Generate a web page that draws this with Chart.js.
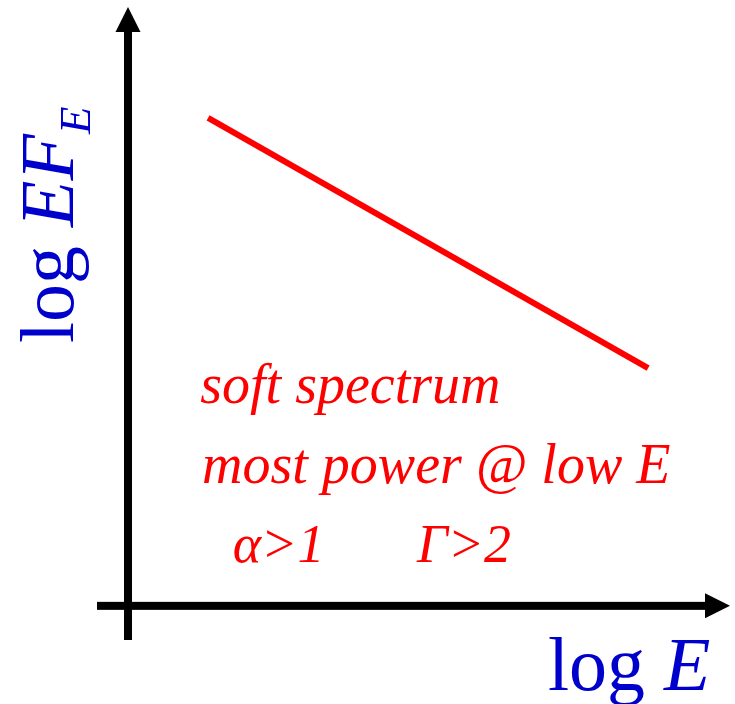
<!DOCTYPE html>
<html>
<head>
<meta charset="utf-8">
<script src="https://cdn.jsdelivr.net/npm/chart.js@4/dist/chart.umd.min.js"></script>
<style>
  html, body { margin: 0; padding: 0; background: #fff; }
  #wrap { width: 735px; height: 704px; position: relative; }
</style>
</head>
<body>
<div id="wrap"><canvas id="spectrum"></canvas></div>
<script>
// soft power-law segment, log-log space (arbitrary units)
const logE = [1.33, 8.64];
const logEFE = [8.15, 3.97];

const noteLines = ["soft spectrum", "most power @ low E"];
const indexNotes = ["α>1", "Γ>2"];

const BLUE = "#0000cc";
const RED = "#ff0000";
const SERIF = '"Liberation Serif", "Times New Roman", serif';

// axes with arrow heads, crossing at (0, 0)
const arrowAxes = {
  id: "arrowAxes",
  beforeDatasetsDraw(chart) {
    const { ctx, chartArea, scales } = chart;
    const x0 = scales.x.getPixelForValue(0);
    const y0 = scales.y.getPixelForValue(0);
    const head = 25, half = 12.5, w = 8;
    ctx.save();
    ctx.fillStyle = "#000";

    ctx.fillRect(chartArea.left, y0 - w / 2, chartArea.right - head - chartArea.left, w);
    ctx.beginPath();
    ctx.moveTo(chartArea.right, y0);
    ctx.lineTo(chartArea.right - head, y0 - half);
    ctx.lineTo(chartArea.right - head, y0 + half);
    ctx.closePath();
    ctx.fill();

    ctx.fillRect(x0 - w / 2, chartArea.top + head, w, chartArea.bottom - chartArea.top - head);
    ctx.beginPath();
    ctx.moveTo(x0, chartArea.top);
    ctx.lineTo(x0 - half, chartArea.top + head);
    ctx.lineTo(x0 + half, chartArea.top + head);
    ctx.closePath();
    ctx.fill();
    ctx.restore();
  }
};

// draws a run of [text, font, dy] pieces one after another
function drawRun(ctx, pieces) {
  let x = 0;
  for (const [text, font, dy] of pieces) {
    ctx.font = font;
    ctx.fillText(text, x, dy);
    x += ctx.measureText(text).width;
  }
}

const annotations = {
  id: "annotations",
  afterDraw(chart) {
    const { ctx, scales } = chart;
    const px = v => scales.x.getPixelForValue(v);
    const py = v => scales.y.getPixelForValue(v);
    ctx.save();
    ctx.textBaseline = "alphabetic";
    ctx.textAlign = "left";

    // notes under the line
    ctx.fillStyle = RED;
    ctx.font = "italic 56px " + SERIF;
    ctx.fillText(noteLines[0], px(1.2), py(3.39));
    ctx.fillText(noteLines[1], px(1.23), py(2.05));
    ctx.font = "italic 54px " + SERIF;
    ctx.fillText(indexNotes[0], px(1.74), py(0.73));
    ctx.fillText(indexNotes[1], px(4.8), py(0.73));

    // axis titles
    ctx.fillStyle = BLUE;
    const big = "76px " + SERIF;
    const bigI = "italic 76px " + SERIF;
    const subI = "italic 45px " + SERIF;

    ctx.save();
    ctx.translate(548, 690);
    drawRun(ctx, [["log ", big, 0], ["E", bigI, 0]]);
    ctx.restore();

    ctx.save();
    ctx.translate(73, 343);
    ctx.rotate(-Math.PI / 2);
    drawRun(ctx, [["log ", big, 0], ["EF", bigI, 0], ["E", subI, 17]]);
    ctx.restore();

    ctx.restore();
  }
};

new Chart(document.getElementById("spectrum"), {
  type: "line",
  data: {
    datasets: [{
      data: logE.map((x, i) => ({ x, y: logEFE[i] })),
      borderColor: RED,
      borderWidth: 6,
      borderCapStyle: "butt",
      pointRadius: 0,
      tension: 0,
      fill: false
    }]
  },
  options: {
    responsive: true,
    maintainAspectRatio: false,
    animation: false,
    layout: { padding: { left: 97, top: 7, right: 5, bottom: 64 } },
    plugins: { legend: { display: false }, tooltip: { enabled: false } },
    scales: {
      x: { type: "linear", min: -0.515, max: 10, display: false },
      y: { type: "linear", min: -0.57, max: 10, display: false }
    }
  },
  plugins: [arrowAxes, annotations]
});
</script>
</body>
</html>
